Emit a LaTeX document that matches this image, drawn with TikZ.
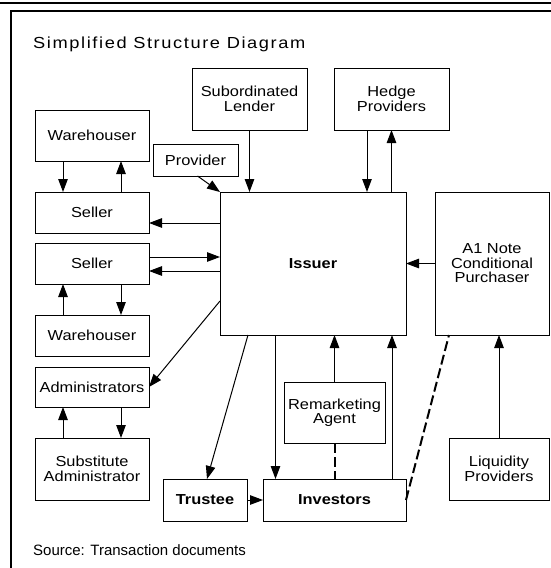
\documentclass[tikz,border=0pt]{standalone}
\usepackage{fontspec}
\setmainfont{Liberation Sans}
\newfontfamily\boxfam[FakeStretch=1.13]{Liberation Sans}
\newfontfamily\titlefam[FakeStretch=1.14, LetterSpace=10]{Liberation Sans}
\usetikzlibrary{arrows.meta,positioning}

\newcommand{\boxfont}{\boxfam\fontsize{14.5}{14.5}\selectfont}

\tikzset{
  box/.style={
    draw,
    line width=1pt,
    rectangle,
    align=center,
    inner sep=2pt,
    outer sep=0pt,
    minimum width=114pt,
    minimum height=41pt,
    font=\boxfont,
  },
  tall/.style={box, minimum height=62pt},
  key/.style={box, font=\boxfont\bfseries},
  arr/.style={-{Triangle[length=13pt, width=9.5pt]}, line width=1pt},
  link/.style={line width=2pt, dash pattern=on 10pt off 4pt},
  rule/.style={line width=2pt},
}

\begin{document}
\begin{tikzpicture}[x=1pt, y=1pt]
  \useasboundingbox[fill=white] (0,0) rectangle (551,-568);
  \draw[rule] (0,-2.5) -- (551,-2.5);
  \draw[rule] (551,-10.5) -- (11,-10.5) -- (11,-568);

  \node[anchor=base west, inner sep=0pt, font=\titlefam\fontsize{16}{19}\selectfont] (title) at (33,-48)
    {Simplified Structure Diagram};

  % left column
  \node[box] (sel1) at (92,-212.5) {Seller};
  \node[box, minimum height=51pt, above=31pt of sel1] (wh1) {Warehouser};
  \node[box, below=10pt of sel1] (sel2) {Seller};
  \node[box, below=31pt of sel2] (wh2) {Warehouser};
  \node[box, minimum height=40pt, below=11pt of wh2] (adm) {Administrators};
  \node[tall, below=31pt of adm] (sub) {Substitute\\Administrator};

  % issuer and the boxes round it
  \node[key, minimum width=186pt, minimum height=143pt] (issuer) at (313,-263.5) {Issuer};
  \node[box, minimum height=143pt, right=29pt of issuer] (cond) {A1 Note\\Conditional\\Purchaser};
  \node[tall, minimum width=115pt] (lender) at (249.5,-99) {Subordinated\\Lender};
  \node[tall, minimum width=115pt, right=27pt of lender] (hedge) {Hedge\\Providers};
  \node[box, minimum width=85pt, minimum height=32pt] (prov) at (195.5,-160) {Provider};

  % bottom row
  \node[key, minimum width=84pt, minimum height=42pt] (trustee) at (205,-500) {Trustee};
  \node[key, minimum width=143pt, minimum height=42pt, right=16pt of trustee] (inv) {Investors};
  \node[box, minimum width=101pt, minimum height=61pt, above=36pt of inv] (remk) {Remarketing\\Agent};
  \node[tall, minimum width=100pt] (liq) at (499,-469) {Liquidity\\Providers};

  \node[anchor=base west, inner sep=0pt, font=\fontsize{15}{18}\selectfont] (src) at (33,-555)
    {Source: Transaction documents};

  % warehousers, sellers, administrators
  \draw[arr] ([xshift=-29pt]wh1.south) -- ([xshift=-29pt]sel1.north);
  \draw[arr] ([xshift=29pt]sel1.north) -- ([xshift=29pt]wh1.south);
  \draw[arr] ([xshift=-29pt]wh2.north) -- ([xshift=-29pt]sel2.south);
  \draw[arr] ([xshift=29pt]sel2.south) -- ([xshift=29pt]wh2.north);
  \draw[arr] ([xshift=-29pt]sub.north) -- ([xshift=-29pt]adm.south);
  \draw[arr] ([xshift=29pt]adm.south) -- ([xshift=29pt]sub.north);

  \draw[arr] ([yshift=40.5pt]issuer.west) -- ([yshift=-10.5pt]sel1.east);
  \draw[arr] ([yshift=6.5pt]sel2.east) -- ([yshift=6.5pt]issuer.west);
  \draw[arr] ([yshift=-7.5pt]issuer.west) -- ([yshift=-7.5pt]sel2.east);
  \draw[arr] ([yshift=-37.5pt]issuer.west) -- (adm.east);

  % top
  \draw[arr] ([xshift=2pt]prov.south) -- (issuer.north west);
  \draw[arr] (lender.south) -- (lender.south |- issuer.north);
  \draw[arr] ([xshift=-24.5pt]hedge.south) -- ([xshift=54pt]issuer.north);
  \draw[arr] ([xshift=78.5pt]issuer.north) -- (hedge.south);

  % right
  \draw[arr] (cond.west) -- (issuer.east);
  \draw[arr] (liq.north) -- (liq.north |- cond.south);

  % bottom
  \draw[arr] ([xshift=-65pt]issuer.south) -- ([xshift=2pt]trustee.north);
  \draw[arr] ([xshift=-37.5pt]issuer.south) -- ([xshift=-59pt]inv.north);
  \draw[arr] (remk.north) -- (remk.north |- issuer.south);
  \draw[arr] ([xshift=57.5pt]inv.north) -- ([xshift=79pt]issuer.south);
  \draw[arr] (trustee.east) -- (inv.west);
  \draw[link] (remk.south) -- (inv.north);
  \draw[link] (inv.east) -- ([xshift=14pt]cond.south west);
\end{tikzpicture}
\end{document}
